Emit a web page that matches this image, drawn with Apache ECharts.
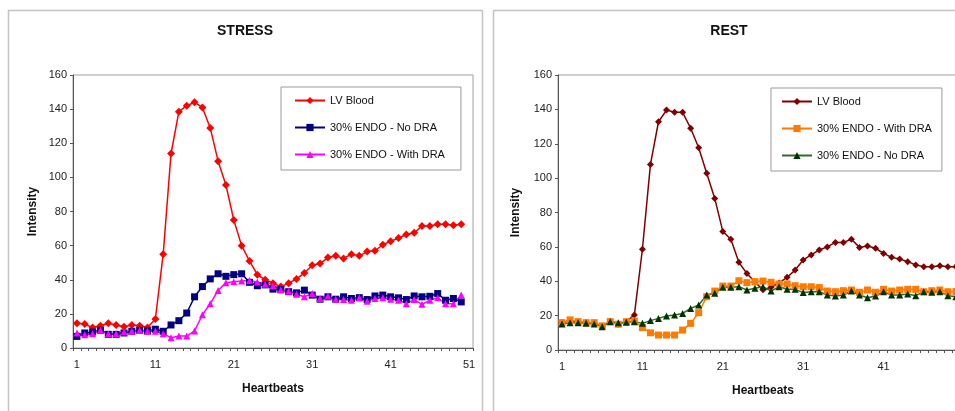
<!DOCTYPE html>
<html>
<head>
<meta charset="utf-8">
<script src="https://cdn.jsdelivr.net/npm/echarts@6/dist/echarts.min.js"></script>
<style>
html,body{margin:0;padding:0;background:#fff;}
#chart{width:955px;height:411px;}
</style>
</head>
<body>
<div id="chart"></div>
<script>
// Category labels (heartbeats)
const heartbeats = ['1','2','3','4','5','6','7','8','9','10','11','12','13','14','15','16','17','18','19','20','21','22','23','24','25','26','27','28','29','30','31','32','33','34','35','36','37','38','39','40','41','42','43','44','45','46','47','48','49','50','51'];
const yTicks = [0, 20, 40, 60, 80, 100, 120, 140, 160];

// STRESS panel
const stressLVBlood = [14.5,14,12,13,14.5,13.5,12.5,13.5,13,12,17,55,114,138.5,142,144,141,129,109.5,95.5,75,60,51,43,40,38,36,38,40.5,44,48.5,49.5,53,54,52.5,55,54,56.5,57,60.5,62.5,64.5,66.5,67.5,71.5,71.5,72.5,72.5,72,72.5];
const stressEndoNoDRA = [6.8,8.8,9.4,10.4,8,8,8.8,9.8,10.4,10,11,9.8,13.5,16,20.5,30,36,40.5,43.5,42,43,43.5,38.5,36.5,37,34.5,34.2,33,32.3,33.9,31,28.6,30,28.6,30,29,29.5,28.4,30.5,31,30,29.4,28.4,30.5,30,30.3,31.9,28,29,27];
const stressEndoWithDRA = [8.8,7.8,8.4,10.4,8.4,8.4,9.4,9.8,10.4,9.8,9.8,8.4,6,7,7,10,19.5,26,33.7,38.3,38.8,39.2,39.5,38.7,37.4,36.4,34.2,33.3,31.5,30,31.9,29,30.5,28.6,28.4,28,29.4,27.4,29,29.4,28.6,28,26,28.4,25.6,28,29.4,26,26,31];

// REST panel
const restLVBlood = [16,17,16,16,15.5,14,16.5,15,16.5,20.4,58.6,108,132.8,139.6,138.3,138.3,129,117.7,102.8,88.2,69,64.4,51,44.5,39.5,35,36.5,39,42.3,46.5,52.4,55.3,58.2,60,62.6,62.6,64.4,59.7,60.5,59.2,56.2,53.9,52.9,51.4,49.5,48.5,48.5,49,48.5,48.5];
const restEndoWithDRA = [15.9,17.5,16.5,15.9,15.9,14,16.5,15,16.5,16.9,13,10,8.7,8.7,8.7,11.6,15.5,21.7,31,34.3,37.2,37.2,40.3,39.2,39.8,40.1,39.4,38.4,38.4,37.4,36.8,36.8,36.3,34.3,33.9,34.5,34.9,33.6,34.9,33.6,35.3,34.3,34.9,35.3,35.3,33.9,34.5,34.9,33.9,34];
const restEndoNoDRA = [15.1,15.9,15.9,15.5,15.1,13.6,16.5,15.9,16.1,16.5,15.5,17.1,18.4,19.8,20.4,21.3,24.2,26.2,32,33,36.5,36.5,36.8,34.9,35.9,36.8,34.3,36.8,35.3,35.3,33.4,33.9,33.9,32,31.4,32,34.3,32,30.4,31.4,33.9,32,32,32.6,31.6,33.9,33.6,33.9,31.6,31];

const FONT = 'Arial, "Liberation Sans", sans-serif';
const REST_SUFFIX = ' (Rest)';

function xAxisFor(gridIndex) {
  return {
    type: 'category', gridIndex: gridIndex, data: heartbeats, boundaryGap: true,
    name: 'Heartbeats', nameLocation: 'middle', nameGap: 35,
    nameTextStyle: {fontFamily: FONT, fontWeight: 'bold', fontSize: 12, color: '#111'},
    axisLine: {lineStyle: {color: '#555', width: 1}},
    axisTick: {show: true, interval: 0, length: 3, lineStyle: {color: '#555'}},
    axisLabel: {interval: 9, margin: 11, fontFamily: FONT, fontSize: 11, color: '#222'},
    splitLine: {show: false}
  };
}
function yAxisFor(gridIndex, gap) {
  return {
    type: 'value', gridIndex: gridIndex, min: yTicks[0], max: yTicks[yTicks.length - 1],
    interval: yTicks[1] - yTicks[0],
    name: 'Intensity', nameLocation: 'middle', nameGap: gap, nameRotate: 90,
    nameTextStyle: {fontFamily: FONT, fontWeight: 'bold', fontSize: 12, color: '#111'},
    axisLine: {show: true, lineStyle: {color: '#555', width: 1}},
    axisTick: {show: true, length: 3, lineStyle: {color: '#555'}},
    axisLabel: {margin: 6, fontFamily: FONT, fontSize: 11, color: '#222'},
    splitLine: {show: false}
  };
}
function lineSeries(name, data, xi, color, markerColor, symbol, size) {
  return {
    type: 'line', name: name, data: data, xAxisIndex: xi, yAxisIndex: xi,
    symbol: symbol, symbolSize: size, showSymbol: true, showAllSymbol: true,
    lineStyle: {color: color, width: 1.5},
    itemStyle: {color: markerColor, borderWidth: 0},
    animation: false
  };
}
const legendCommon = {
  orient: 'vertical', itemWidth: 30, itemHeight: 9, itemGap: 16,
  borderColor: '#9a9a9a', borderWidth: 1,
  backgroundColor: '#fff',
  textStyle: {fontFamily: FONT, fontSize: 11, color: '#111'},
  formatter: function (n) { return n.replace(REST_SUFFIX, ''); }
};

const chart = echarts.init(document.getElementById('chart'), null, {renderer: 'canvas'});
chart.setOption({
  backgroundColor: '#fff',
  animation: false,
  graphic: [
    {type: 'rect', shape: {x: 8.5, y: 10.5, width: 474, height: 430}, style: {fill: 'none', stroke: '#c4c4c4', lineWidth: 1.5}, silent: true, z: -1},
    {type: 'rect', shape: {x: 493.5, y: 10.5, width: 500, height: 430}, style: {fill: 'none', stroke: '#c4c4c4', lineWidth: 1.5}, silent: true, z: -1}
  ],
  title: [
    {text: 'STRESS', left: 245, top: 24, textAlign: 'center', padding: 0,
     textStyle: {fontFamily: FONT, fontWeight: 'bold', fontSize: 14, color: '#111'}},
    {text: 'REST', left: 729, top: 24, textAlign: 'center', padding: 0,
     textStyle: {fontFamily: FONT, fontWeight: 'bold', fontSize: 14, color: '#111'}}
  ],
  legend: [
    Object.assign({}, legendCommon, {left: 281, top: 87, padding: [8, 16, 10, 13],
      data: ['LV Blood', '30% ENDO - No DRA', '30% ENDO - With DRA']}),
    Object.assign({}, legendCommon, {left: 771, top: 88, padding: [8, 10, 10, 10],
      data: ['LV Blood' + REST_SUFFIX, '30% ENDO - With DRA' + REST_SUFFIX, '30% ENDO - No DRA' + REST_SUFFIX]})
  ],
  grid: [
    {left: 73, top: 75, width: 400, height: 273, show: true, borderColor: '#a0a0a0', borderWidth: 1, backgroundColor: '#fff', outerBoundsMode: 'none', containLabel: false},
    {left: 558, top: 75, width: 410, height: 275, show: true, borderColor: '#a0a0a0', borderWidth: 1, backgroundColor: '#fff', outerBoundsMode: 'none', containLabel: false}
  ],
  xAxis: [xAxisFor(0), xAxisFor(1)],
  yAxis: [yAxisFor(0, 34), yAxisFor(1, 36)],
  series: [
    lineSeries('LV Blood', stressLVBlood, 0, '#ff0000', '#ff0000', 'diamond', 8),
    lineSeries('30% ENDO - No DRA', stressEndoNoDRA, 0, '#000080', '#000080', 'rect', 7),
    lineSeries('30% ENDO - With DRA', stressEndoWithDRA, 0, '#ff00ff', '#ff00ff', 'triangle', 7),
    lineSeries('LV Blood' + REST_SUFFIX, restLVBlood, 1, '#800000', '#800000', 'diamond', 7),
    lineSeries('30% ENDO - With DRA' + REST_SUFFIX, restEndoWithDRA, 1, '#ff7a00', '#ff7a00', 'rect', 7),
    lineSeries('30% ENDO - No DRA' + REST_SUFFIX, restEndoNoDRA, 1, '#2f6b2f', '#003300', 'triangle', 7)
  ]
});
</script>
</body>
</html>
